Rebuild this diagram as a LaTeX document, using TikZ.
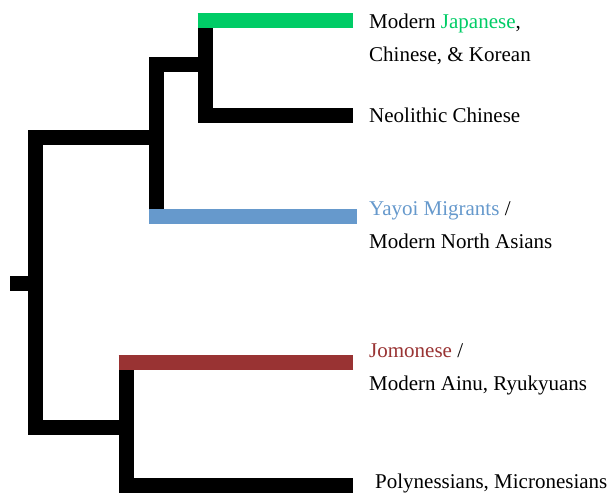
\documentclass[tikz,border=0pt]{standalone}
\usepackage{fontspec}
\setmainfont{Liberation Serif}
\definecolor{jgreen}{RGB}{0,204,102}
\definecolor{ybleu}{RGB}{102,153,204}
\definecolor{jred}{RGB}{153,51,51}
\tikzset{
  branch/.style={line width=15pt},
  taxon/.style={anchor=base west, inner sep=0pt, font=\fontsize{21}{25}\selectfont}
}
\begin{document}
\begin{tikzpicture}[x=1pt,y=-1pt]
                        \useasboundingbox (0,0) rectangle (610,493);
                        
                        % junctions of the tree
                        \coordinate (root) at (10,283);
                        \coordinate (top) at (35,137.5);
                        \coordinate (bot) at (35,427.5);
                        \coordinate (asia) at (156,64.5);
                        \coordinate (neo) at (205,64.5);
                        \coordinate (jomo) at (126,427.5);
                        
                        % leaf ends
                        \coordinate (tipJ) at (353,20.5);
                        \coordinate (tipN) at (353,115.5);
                        \coordinate (tipY) at (357,216.5);
                        \coordinate (tipA) at (353,362);
                        \coordinate (tipP) at (353,485.5);
                        
                        \draw[branch] (root) -- (root -| top);
                        \draw[branch] (asia |- top) -- (top) -- (bot) -- (jomo);
                        \draw[branch] (neo) -- (asia) -- (asia |- tipY) -- (tipY);
                        \draw[branch] (tipJ) -- (tipJ -| neo) -- (tipN -| neo) -- (tipN);
                        \draw[branch] (tipA) -- (tipA -| jomo) -- (tipP -| jomo) -- (tipP);
                        
                        % coloured leaves
                        \draw[branch, jgreen] ([xshift=-7.5pt]tipJ -| neo) -- (tipJ);
                        \draw[branch, ybleu] ([xshift=-7.5pt]tipY -| asia) -- (tipY);
                        \draw[branch, jred] ([xshift=-7.5pt]tipA -| jomo) -- (tipA);
                        
                        \node[taxon] (japanese) at (369,28) {Modern \textcolor{jgreen}{Japanese},};
                        \node[taxon] (korean) at (369,61) {Chinese, \& Korean};
                        \node[taxon] (neolithic) at (369,122) {Neolithic Chinese};
                        \node[taxon] (yayoi) at (369,215) {\textcolor{ybleu}{Yayoi Migrants} /};
                        \node[taxon] (northasia) at (369,248) {Modern North Asians};
                        \node[taxon] (jomonese) at (369,357) {\textcolor{jred}{Jomonese} /};
                        \node[taxon] (ainu) at (369,390) {Modern Ainu, Ryukyuans};
                        \node[taxon] (polynesia) at (375,488) {Polynessians, Micronesians};
                    \end{tikzpicture}
\end{document}
